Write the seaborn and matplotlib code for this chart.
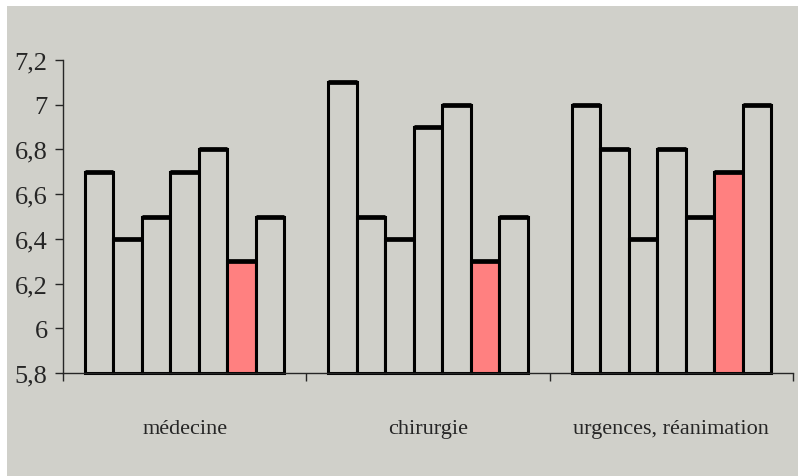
import pandas as pd
import matplotlib.pyplot as plt
import seaborn as sns
from matplotlib.patches import Rectangle


groups = ["médecine", "chirurgie", "urgences, réanimation"]
medecine = [6.7, 6.4, 6.5, 6.7, 6.8, 6.3, 6.5]
chirurgie = [7.1, 6.5, 6.4, 6.9, 7.0, 6.3, 6.5]
urgences = [7.0, 6.8, 6.4, 6.8, 6.5, 6.7, 7.0]
y_ticks = [5.8, 6.0, 6.2, 6.4, 6.6, 6.8, 7.0, 7.2]
y_labels = ["5,8", "6", "6,2", "6,4", "6,6", "6,8", "7", "7,2"]

bg = "#D0D0CA"
pink = "#FF8080"
bar_colors = [bg, bg, bg, bg, bg, pink, bg]

rows = []
for g, vals in zip(groups, [medecine, chirurgie, urgences]):
    for i, v in enumerate(vals):
        rows.append({"groupe": g, "item": str(i), "valeur": v})
df = pd.DataFrame(rows)

sns.set_style("ticks")
plt.rcParams["font.family"] = ["Liberation Serif", "DejaVu Serif"]

fig = plt.figure(figsize=(7.98, 4.77), dpi=100)
fig.patch.set_facecolor("white")
fig.add_artist(Rectangle((7 / 798, 0), 1, 1 - 7 / 477,
                         transform=fig.transFigure, facecolor=bg,
                         edgecolor="none", zorder=0))

# axes box: y axis at x=63, x axis at y=374, 7,2 at y=61
ax = fig.add_axes([63 / 798, 1 - 374 / 477, 730 / 798, 313 / 477])
ax.set_facecolor(bg)

sns.barplot(
    data=df, x="groupe", y="valeur", hue="item",
    palette=bar_colors, saturation=1, width=0.82, gap=0,
    edgecolor="black", linewidth=2.2, legend=False, ax=ax
)

# bars start at the axis floor, with a heavier top edge
base = 5.8
for p in ax.patches:
    top = p.get_height()
    p.set_y(base)
    p.set_height(top - base)
    p.set_clip_on(False)
    ax.hlines(top, p.get_x(), p.get_x() + p.get_width(),
              color="black", linewidth=3.4, zorder=5)

ax.set_ylim(5.8, 7.2)
ax.set_xlim(-0.5, 2.5)
ax.set_yticks(y_ticks)
ax.set_yticklabels(y_labels, fontsize=19)
ax.set_xticks([0, 1, 2])
ax.set_xticklabels(groups, fontsize=16)
ax.set_xticks([-0.5, 0.5, 1.5, 2.5], minor=True)
ax.tick_params(axis="x", which="major", length=0, pad=33)
ax.tick_params(axis="x", which="minor", length=6, width=1, direction="out")
ax.tick_params(axis="y", length=6, width=1, direction="out", pad=5)
ax.set_xlabel("")
ax.set_ylabel("")

sns.despine(ax=ax, top=True, right=True)
ax.spines["left"].set_linewidth(1)
ax.spines["bottom"].set_linewidth(1)

plt.savefig("out.png", dpi=100, facecolor=fig.get_facecolor())
